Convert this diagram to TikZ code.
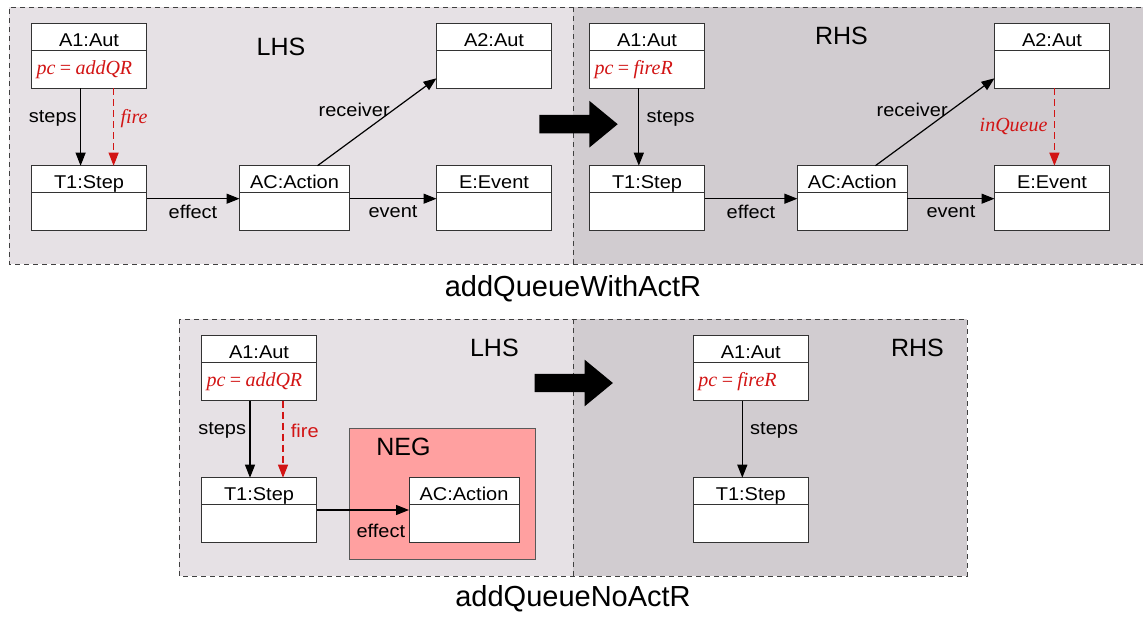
\documentclass[tikz,border=0pt]{standalone}
\usepackage{fontspec}
\setmainfont{Liberation Sans}
\newfontfamily\labfont{Liberation Sans}[FakeStretch=1.08]
\newfontfamily\serfont{Liberation Serif}
\usetikzlibrary{arrows.meta,positioning}
\pgfdeclarelayer{bg}
\pgfsetlayers{bg,main}
\definecolor{lhsgray}{RGB}{230,225,229}
\definecolor{rhsgray}{RGB}{209,204,208}
\definecolor{negpink}{RGB}{255,160,160}
\definecolor{attr}{RGB}{210,20,20}
\tikzset{
  lab/.style={font=\labfont\fontsize{18.5}{21}\selectfont},
  redlab/.style={text=attr, font=\serfont\itshape\fontsize{20}{22}\selectfont},
  redsans/.style={text=attr, font=\labfont\fontsize{18.5}{21}\selectfont},
  sidelab/.style={font=\fontsize{25}{28}\selectfont},
  titlelab/.style={font=\fontsize{29}{32}\selectfont},
  objhead/.style={draw=black!80, fill=white, line width=1pt, minimum height=27,
    inner sep=0pt, outer sep=0pt, text height=19.2pt, text depth=0pt, lab},
  objbody/.style={draw=black!80, fill=white, line width=1pt, minimum height=38,
    inner xsep=5pt, inner ysep=0pt, outer sep=0pt, align=left},
  rel/.style={-{Triangle[length=13pt,width=10pt]}, line width=1.2pt},
  relred/.style={rel, attr, dash pattern=on 7pt off 4pt},
  panel/.style={black!75, line width=0.9pt, dash pattern=on 5pt off 4pt},
  negbox/.style={draw=black!65, fill=negpink, line width=1pt, inner sep=0pt}
}
\newcommand{\objbox}[6][115]{%
  \node[objhead, minimum width=#1] (#2) at (#3,#4) {#5};
  \pgfmathsetlengthmacro{\objtw}{#1-10}%
  \node[objbody, text width=\objtw, below=0pt of #2] (#2b) {#6};
}
\newcommand{\rulearrow}[2]{%
  \fill (#1,#2) -- ++(0,-9.2) -- ++(50,0) -- ++(0,-14.2) -- ++(28.4,23.4)
    -- ++(-28.4,23.4) -- ++(0,-14.2) -- ++(-50,0) -- cycle;
}

\begin{document}
\begin{tikzpicture}[x=1pt, y=-1pt]
    \useasboundingbox (0,0) rectangle (1143,617);

    \begin{pgfonlayer}{bg}
        \fill[lhsgray] (9,7.3) rectangle (573,264);
        \fill[rhsgray] (573,7.3) rectangle (1150,264);
        \draw[panel] (1150,7.3) -- (9,7.3) -- (9,264) -- (1150,264);
        \draw[panel] (573,7.3) -- (573,264);

        \fill[lhsgray] (179.3,319) rectangle (573,576);
        \fill[rhsgray] (573,319) rectangle (967,576);
        \draw[panel] (179.3,319) rectangle (967,576);
        \draw[panel] (573,319) -- (573,576);
    \end{pgfonlayer}

    \node (lhs1) at (281,47) [sidelab] {LHS};
    \node (rhs1) at (841.4,36) [sidelab] {RHS};
    \node (title1) at (573,289) [titlelab] {addQueueWithActR};

    \objbox{a1}{89}{36.8}{A1:Aut}{\serfont\itshape\fontsize{20}{22}\selectfont\color{attr}pc = addQR}
    \objbox{a2}{494}{36.8}{A2:Aut}{}
    \objbox{t1}{89}{179.2}{T1:Step}{}
    \objbox[110]{ac}{294.5}{179.2}{AC:Action}{}
    \objbox{e}{494}{179.2}{E:Event}{}

    \draw[rel] ([xshift=-8.4]a1b.south) -- node[lab, left, pos=0.36, yshift=-2] {steps} ([xshift=-8.4]t1.north);
    \draw[relred] ([xshift=24.6]a1b.south) -- node[redlab, right, pos=0.36, xshift=3, yshift=-2] {fire} ([xshift=24.6]t1.north);
    \draw[rel] ([yshift=-6]t1b.north east) -- node[lab, below, yshift=-2] {effect} ([yshift=-6]acb.north west);
    \draw[rel] ([yshift=-6]acb.north east) -- node[lab, below, yshift=-3] {event} ([yshift=-6]eb.north west);
    \draw[rel] ([xshift=23]ac.north) -- node[lab, left, pos=0.64] {receiver} ([yshift=10]a2b.south west);

    \objbox{a1r}{647}{36.8}{A1:Aut}{\serfont\itshape\fontsize{20}{22}\selectfont\color{attr}pc = fireR}
    \objbox{a2r}{1052}{36.8}{A2:Aut}{}
    \objbox{t1r}{647}{179.2}{T1:Step}{}
    \objbox[110]{acr}{852.4}{179.2}{AC:Action}{}
    \objbox{er}{1052}{179.2}{E:Event}{}

    \draw[rel] ([xshift=-8.2]a1rb.south) -- node[lab, right, pos=0.36, xshift=4, yshift=-2] {steps} ([xshift=-8.2]t1r.north);
    \draw[rel] ([yshift=-6]t1rb.north east) -- node[lab, below, yshift=-2] {effect} ([yshift=-6]acrb.north west);
    \draw[rel] ([yshift=-6]acrb.north east) -- node[lab, below, yshift=-3] {event} ([yshift=-6]erb.north west);
    \draw[rel] ([xshift=23]acr.north) -- node[lab, left, pos=0.64] {receiver} ([yshift=10]a2rb.south west);
    \draw[relred] ([xshift=2.4]a2rb.south) -- node[redlab, left, pos=0.5, xshift=-3] {inQueue} ([xshift=2.4]er.north);

    \rulearrow{539.3}{124.2}

    \node (lhs2) at (494.4,348) [sidelab] {LHS};
    \node (rhs2) at (917.4,348) [sidelab] {RHS};
    \node (title2) at (573,599) [titlelab] {addQueueNoActR};

    \node (neg) at (442.5,493.8) [negbox, minimum width=186.5, minimum height=131] {};
    \node (neglab) at (403.5,447.3) [sidelab] {NEG};

    \objbox{na1}{259}{349.2}{A1:Aut}{\serfont\itshape\fontsize{20}{22}\selectfont\color{attr}pc = addQR}
    \objbox{nt1}{259}{491.2}{T1:Step}{}
    \objbox[110]{nac}{464}{491.2}{AC:Action}{}

    \draw[rel] ([xshift=-9]na1b.south) -- node[lab, left, pos=0.36, yshift=-2] {steps} ([xshift=-9]nt1.north);
    \draw[relred] ([xshift=24]na1b.south) -- node[redsans, right, pos=0.36, xshift=4, yshift=-2] {fire} ([xshift=24]nt1.north);
    \draw[rel] ([yshift=-5.3]nt1b.north east) -- node[lab, pos=1, below left, yshift=-10] {effect} ([yshift=-5.3]nacb.north west);

    \objbox{na1r}{750.8}{349.2}{A1:Aut}{\serfont\itshape\fontsize{20}{22}\selectfont\color{attr}pc = fireR}
    \objbox{nt1r}{750.8}{491.2}{T1:Step}{}

    \draw[rel] ([xshift=-8.5]na1rb.south) -- node[lab, right, pos=0.36, xshift=4, yshift=-2] {steps} ([xshift=-8.5]nt1r.north);

    \rulearrow{534.5}{383}
\end{tikzpicture}
\end{document}
